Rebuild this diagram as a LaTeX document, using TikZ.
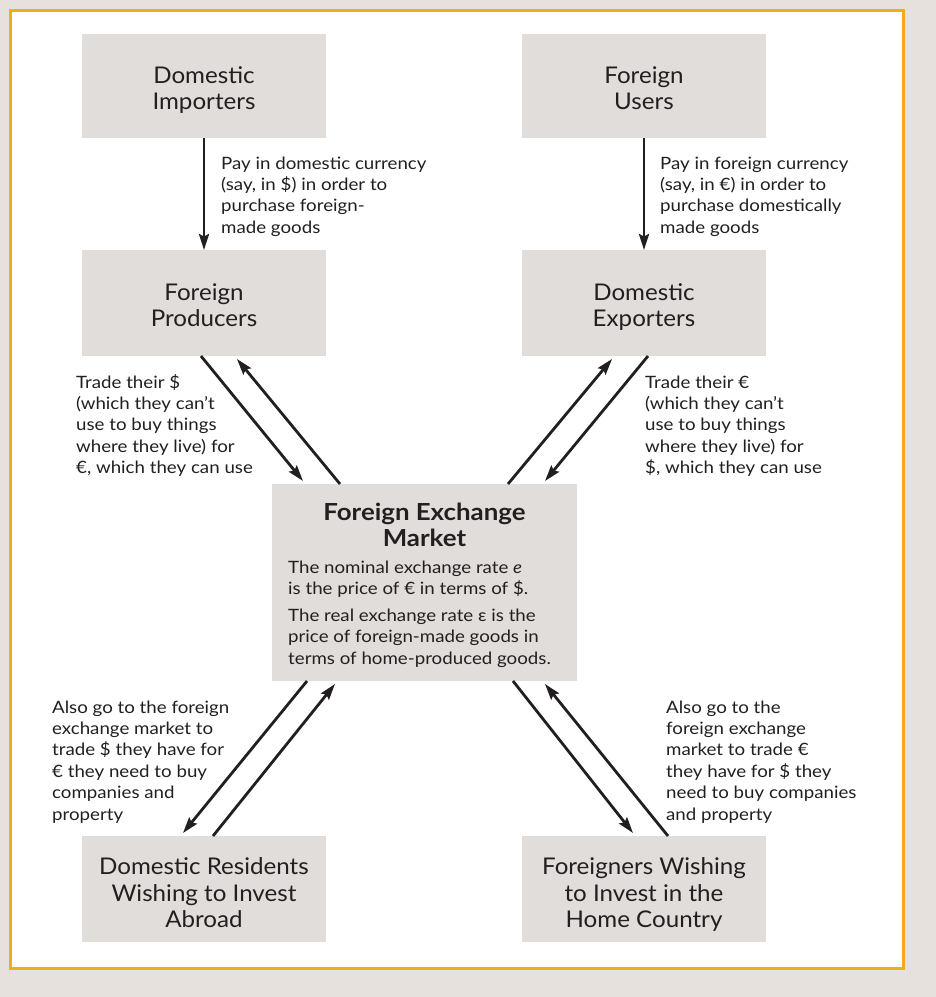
\documentclass[tikz,border=0pt]{standalone}
\usepackage{fontspec}
\setmainfont{Lato}[FakeStretch=1.1]
\newfontfamily\boxfont{Lato}[FakeStretch=1.05]
\usetikzlibrary{arrows.meta,calc}
\definecolor{bgout}{HTML}{E6E1DC}
\definecolor{boxfill}{HTML}{E1DDDA}
\definecolor{framecol}{HTML}{F5AA1E}
\definecolor{ink}{HTML}{231F20}
\newcommand{\boxlines}[1]{\begin{tabular}{@{}c@{}}#1\end{tabular}}
\begin{document}
\begin{tikzpicture}[x=1pt,y=-1pt,
  box/.style={fill=boxfill, inner sep=0, outer sep=0, minimum width=244pt, minimum height=104pt},
  boxlabel/.style={anchor=center, yshift=#1, inner sep=0, text=ink, font=\boxfont\fontsize{23}{26.5}\selectfont},
  boxlabel/.default=-5pt,
  note/.style={anchor=base west, inner sep=0, text=ink, font=\fontsize{17}{21.4}\selectfont},
  flow/.style={draw=ink, line width=2.8pt, -{Stealth[length=16pt,width=10pt,inset=2.5pt]}}]
\useasboundingbox (0,0) rectangle (936,997);
\fill[bgout] (0,0) rectangle (936,997);
\draw[framecol, line width=3pt, fill=white] (10,10) rectangle (903,968);

% boxes
\node[box, label={[boxlabel]center:{\boxlines{Domestic\\Importers}}}] (di) at (204,86) {};
\node[box, label={[boxlabel]center:{\boxlines{Foreign\\Users}}}] (fu) at (644,86) {};
\node[box, minimum height=106pt, label={[boxlabel]center:{\boxlines{Foreign\\Producers}}}] (fp) at (204,303) {};
\node[box, minimum height=106pt, label={[boxlabel]center:{\boxlines{Domestic\\Exporters}}}] (de) at (644,303) {};
\node[box, minimum width=305pt, minimum height=197pt] (fx) at (424.5,582.5) {};
\node[box, minimum height=106pt, label={[boxlabel=-7pt]center:{\boxlines{Domestic Residents\\Wishing to Invest\\Abroad}}}] (dr) at (204,889) {};
\node[box, minimum height=106pt, label={[boxlabel=-7pt]center:{\boxlines{Foreigners Wishing\\to Invest in the\\Home Country}}}] (fw) at (644,889) {};

% FX text
\node[anchor=base, inner sep=0, text=ink, font=\fontsize{23.5}{26}\selectfont\bfseries] (fxt) at (424.5,520)
  {\begin{tabular}[t]{@{}c@{}}Foreign Exchange\\Market\end{tabular}};
\node[note] (fxb) at (288,573)
  {\begin{tabular}[t]{@{}l@{}}The nominal exchange rate \textit{e}\\is the price of € in terms of \$.\\[5.5pt]The real exchange rate ε is the\\price of foreign-made goods in\\terms of home-produced goods.\end{tabular}};

% vertical arrows
\draw[flow] (di.south) -- (fp.north);
\draw[flow] (fu.south) -- (de.north);

% diagonal arrow end points
\coordinate (ul1a) at ($(fp.south west)+(119,0)$);
\coordinate (ul1b) at ($(fx.north west)+(31,-3)$);
\coordinate (ul2a) at ($(fx.north west)+(68,0)$);
\coordinate (ul2b) at ($(fp.south west)+(155,3)$);
\coordinate (ur1a) at ($(fx.north west)+(236,0)$);
\coordinate (ur1b) at ($(de.south west)+(90,3)$);
\coordinate (ur2a) at ($(de.south west)+(126,0)$);
\coordinate (ur2b) at ($(fx.north west)+(273,-3)$);
\coordinate (ll1a) at ($(fx.south west)+(35,0)$);
\coordinate (ll1b) at ($(dr.north west)+(101,-3)$);
\coordinate (ll2a) at ($(dr.north west)+(131,0)$);
\coordinate (ll2b) at ($(fx.south west)+(63,3)$);
\coordinate (lr1a) at ($(fx.south west)+(241,0)$);
\coordinate (lr1b) at ($(fw.north west)+(111,-3)$);
\coordinate (lr2a) at ($(fw.north west)+(146,0)$);
\coordinate (lr2b) at ($(fx.south west)+(273,3)$);

\draw[flow] (ul1a) -- (ul1b);
\draw[flow] (ul2a) -- (ul2b);
\draw[flow] (ur1a) -- (ur1b);
\draw[flow] (ur2a) -- (ur2b);
\draw[flow] (ll1a) -- (ll1b);
\draw[flow] (ll2a) -- (ll2b);
\draw[flow] (lr1a) -- (lr1b);
\draw[flow] (lr2a) -- (lr2b);

% notes
\node[note] (t1) at (221,169) {\begin{tabular}[t]{@{}l@{}}Pay in domestic currency\\(say, in \$) in order to\\purchase foreign-\\made goods\end{tabular}};
\node[note] (t2) at (660,169) {\begin{tabular}[t]{@{}l@{}}Pay in foreign currency\\(say, in €) in order to\\purchase domestically\\made goods\end{tabular}};
\node[note] (t3) at (76,388) {\begin{tabular}[t]{@{}l@{}}Trade their \$\\(which they can’t\\use to buy things\\where they live) for\\€, which they can use\end{tabular}};
\node[note] (t4) at (645,388) {\begin{tabular}[t]{@{}l@{}}Trade their €\\(which they can’t\\use to buy things\\where they live) for\\\$, which they can use\end{tabular}};
\node[note] (t5) at (52,713) {\begin{tabular}[t]{@{}l@{}}Also go to the foreign\\exchange market to\\trade \$ they have for\\€ they need to buy\\companies and\\property\end{tabular}};
\node[note] (t6) at (666,713) {\begin{tabular}[t]{@{}l@{}}Also go to the\\foreign exchange\\market to trade €\\they have for \$ they\\need to buy companies\\and property\end{tabular}};
\end{tikzpicture}
\end{document}
